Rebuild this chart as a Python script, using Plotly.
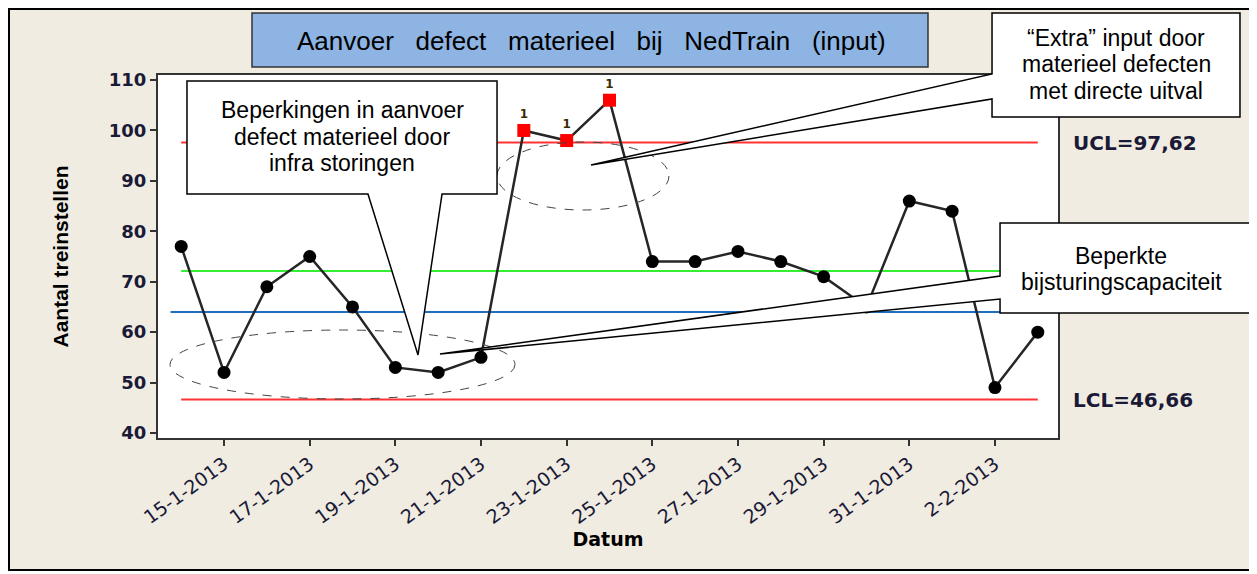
#Data viz
import pandas as pd
import plotly.graph_objs as go

#data
datum = ['2013-01-14', '2013-01-15', '2013-01-16', '2013-01-17', '2013-01-18', '2013-01-19',
         '2013-01-20', '2013-01-21', '2013-01-22', '2013-01-23', '2013-01-24', '2013-01-25',
         '2013-01-26', '2013-01-27', '2013-01-28', '2013-01-29', '2013-01-30', '2013-01-31',
         '2013-02-01', '2013-02-02', '2013-02-03']
aantal = [77, 52, 69, 75, 65, 53, 52, 55, 100, 98, 106, 74, 74, 76, 74, 71, 65, 86, 84, 49, 60]
ucl = 97.62
lcl = 46.66
gemiddelde = 72.14
referentie = 64
tick_datums = datum[1::2]
tick_labels = [f"{d.day}-{d.month}-{d.year}" for d in pd.to_datetime(tick_datums)]

#page is 1257 x 574, the html body adds an 8px offset
OFF = 8
L, R, T, B = 158, 1058, 75, 438
W, H = 1257 - OFF, 574 - OFF


def px(x):
    return (x - L) / (R - L)


def py(y):
    return (B - y) / (B - T)


def path(points):
    return 'M ' + ' L '.join(f'{px(x):.4f},{py(y):.4f}' for x, y in points) + ' Z'


tekst_kleur = '#1a1a36'
buiten = [v > ucl or v < lcl for v in aantal]

fig = go.Figure()

#control lines
fig.add_trace(go.Scatter(x=['2013-01-13 18:00', datum[-1]], y=[referentie, referentie], mode='lines',
                         line=dict(color='#1f6fc0', width=2), showlegend=False))
for waarde, kleur in [(gemiddelde, '#33ee33'), (ucl, '#ff3333'), (lcl, '#ff3333')]:
    fig.add_trace(go.Scatter(x=[datum[0], datum[-1]], y=[waarde, waarde], mode='lines',
                             line=dict(color=kleur, width=2), showlegend=False))

#data series
fig.add_trace(go.Scatter(
    x=datum, y=aantal, mode='lines+markers+text',
    line=dict(color='#262626', width=2.5),
    marker=dict(size=13, opacity=1,
                symbol=['square' if b else 'circle' for b in buiten],
                color=['#ff0000' if b else 'black' for b in buiten],
                line=dict(width=0)),
    text=['1' if b else '' for b in buiten], textposition='top center',
    textfont=dict(family='DejaVu Sans', size=12, color='#3a2a00', weight='bold'),
    showlegend=False))

shapes = []
#outer frame
shapes.append(dict(type='rect', xref='paper', yref='paper', x0=px(9), x1=px(1254), y0=py(9), y1=py(570),
                   line=dict(color='black', width=2), layer='below'))
shapes.append(dict(type='rect', xref='paper', yref='paper', x0=px(0), x1=px(1260), y0=py(571), y1=py(580),
                   fillcolor='white', line=dict(width=0)))
#title box
shapes.append(dict(type='rect', xref='paper', yref='paper', x0=px(252), x1=px(928), y0=py(13), y1=py(67),
                   fillcolor='#8db4e2', line=dict(color='#333333', width=1.5)))
#dashed ellipses
shapes.append(dict(type='circle', xref='paper', yref='paper', x0=px(170), x1=px(515), y0=py(330), y1=py(399),
                   line=dict(color='#444444', width=1, dash='dash')))
shapes.append(dict(type='circle', xref='paper', yref='paper', x0=px(497), x1=px(669), y0=py(142), y1=py(210),
                   line=dict(color='#444444', width=1, dash='dash')))
#callouts
callouts = [
    [(187, 81), (497, 81), (497, 194), (442, 194), (418, 355), (368, 194), (187, 194)],
    [(1000, 223), (1262, 223), (1262, 313), (1000, 313), (1000, 299), (440, 354), (1000, 276)],
    [(992, 13), (1240, 13), (1240, 117), (992, 117), (992, 99), (591, 165), (992, 74)],
]
for c in callouts:
    shapes.append(dict(type='path', xref='paper', yref='paper', path=path(c),
                       fillcolor='white', line=dict(color='black', width=1.5)))

annotations = []
call_font = dict(family='Liberation Sans, Arial', size=23, color='black')
callout_regels = [
    ('Beperkingen in aanvoer', 342, 110), ('defect materieel door', 342, 137), ('infra storingen', 342, 163),
    ('Beperkte', 1121, 256), ('bijsturingscapaciteit', 1121, 282),
    ('\u201cExtra\u201d input door', 1116, 38), ('materieel defecten', 1116, 64), ('met directe uitval', 1116, 91),
]
for tekst, x, y in callout_regels:
    annotations.append(dict(text=tekst, x=px(x), y=py(y), xref='paper', yref='paper', showarrow=False,
                            xanchor='center', yanchor='middle', font=call_font))
annotations.append(dict(text='Aanvoer \u00a0\u00a0defect \u00a0\u00a0materieel \u00a0\u00a0bij \u00a0\u00a0NedTrain \u00a0\u00a0(input)',
                        x=px(591), y=py(41), xref='paper', yref='paper', showarrow=False,
                        xanchor='center', yanchor='middle',
                        font=dict(family='Liberation Sans, Arial', size=26, color='black')))
for tekst, y in [('UCL=97,62', 143), ('LCL=46,66', 400)]:
    annotations.append(dict(text=tekst, x=px(1071), y=py(y), xref='paper', yref='paper', showarrow=False,
                            xanchor='left', yanchor='middle',
                            font=dict(family='DejaVu Sans', size=20, color=tekst_kleur, weight='bold')))

fig.update_layout(
    width=W, height=H,
    margin=dict(l=L - OFF, r=1257 - R, t=T - OFF, b=574 - B, pad=0),
    paper_bgcolor='#f0ece2', plot_bgcolor='white',
    shapes=shapes, annotations=annotations,
)

# X-Axes
fig.update_xaxes(
    type='date', range=['2013-01-13 11:00', '2013-02-03 11:20'],
    tickvals=tick_datums, ticktext=tick_labels, tickangle=-36,
    tickfont=dict(family='DejaVu Sans', size=19, color=tekst_kleur),
    ticks='outside', ticklen=6, tickcolor='#333333', tickwidth=1.5,
    showline=True, linecolor='#333333', linewidth=2, mirror=True, showgrid=False, zeroline=False,
    title=dict(text='<b>Datum</b>', font=dict(family='DejaVu Sans', size=19, color='black'), standoff=4))

# Y-Axes
fig.update_yaxes(
    range=[39, 111], tickvals=[40, 50, 60, 70, 80, 90, 100, 110],
    tickfont=dict(family='DejaVu Sans', size=18, color=tekst_kleur, weight='bold'),
    ticks='outside', ticklen=6, tickcolor='#333333', tickwidth=1.5,
    showline=True, linecolor='#333333', linewidth=2, mirror=True, showgrid=False, zeroline=False,
    title=dict(text='<b>Aantal treinstellen</b>', font=dict(family='Liberation Sans, Arial', size=21,
                                                           color='black'), standoff=34))

fig.write_html("out.html")
